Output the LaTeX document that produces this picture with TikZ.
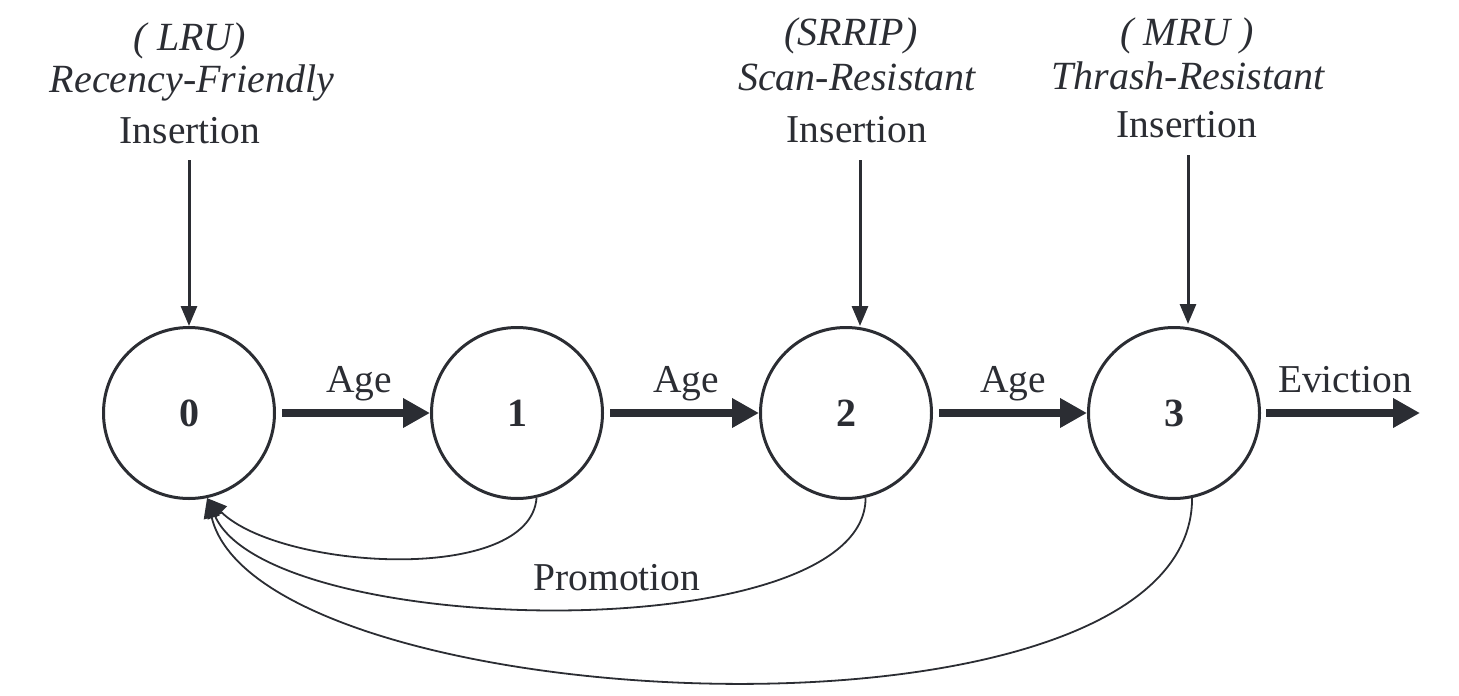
\documentclass[tikz,border=0pt]{standalone}
\usepackage{fontspec}
\setmainfont{Liberation Serif}
\usetikzlibrary{arrows.meta}
\definecolor{ink}{RGB}{43,45,51}
\begin{document}
\begin{tikzpicture}[x=1pt,y=-1pt,
  every node/.style={text=ink},
  txt/.style={font=\fontsize{39.5}{44}\selectfont, inner sep=0pt, anchor=base},
  itxt/.style={font=\fontsize{40}{44}\selectfont\itshape, inner sep=0pt, anchor=base},
  state/.style={circle, draw=ink, line width=3pt, minimum size=171pt, inner sep=0pt, font=\fontsize{40}{44}\selectfont\bfseries},
  agearrow/.style={draw=ink, line width=8pt, -{Triangle[length=27pt,width=28pt]}},
  insarrow/.style={draw=ink, line width=3pt, -{Triangle[length=20pt,width=16pt]}},
  promo/.style={draw=ink, line width=1.8pt, -{Triangle[length=20pt,width=16pt]}}]
\useasboundingbox (0,0) rectangle (1459,696);
% states
\node[state] (n0) at (189,413) {0};
\node[state] (n1) at (517,413) {1};
\node[state] (n2) at (846,413) {2};
\node[state] (n3) at (1174,413) {3};
% top labels
\node[itxt] (l1) at (190,50) {( LRU)};
\node[itxt] (l2) at (192,92) {Recency-Friendly};
\node[txt]  (l3) at (190,143) {Insertion};
\node[itxt] (s1) at (851,45) {(SRRIP)};
\node[itxt] (s2) at (857,90) {Scan-Resistant};
\node[txt]  (s3) at (857,142) {Insertion};
\node[itxt] (m1) at (1187,45) {( MRU )};
\node[itxt] (m2) at (1188,89) {Thrash-Resistant};
\node[txt]  (m3) at (1187,137) {Insertion};
% insertion arrows
\coordinate (i0) at (189,160);
\coordinate (i2) at (860,160);
\coordinate (t2) at (860,326);
\coordinate (i3) at (1188,155);
\coordinate (t3) at (1188,324);
\draw[insarrow] (i0) -- (n0.north);
\draw[insarrow] (i2) -- (t2);
\draw[insarrow] (i3) -- (t3);
% age arrows
\coordinate (a0) at (282,413);
\coordinate (a1) at (610,413);
\coordinate (a2) at (939,413);
\coordinate (e0) at (1266,413);
\coordinate (ev) at (1420,413);
\draw[agearrow] (a0) -- (n1.west);
\draw[agearrow] (a1) -- (n2.west);
\draw[agearrow] (a2) -- (n3.west);
\draw[agearrow] (e0) -- (ev);
\node[txt] (age1) at (359,392) {Age};
\node[txt] (age2) at (686,392) {Age};
\node[txt] (age3) at (1013,392) {Age};
\node[txt] (evl) at (1345,392) {Eviction};
% promotion curves
\draw[promo] (n1.-77) .. controls (530,585) and (280,570) .. (n0.-78);
\draw[promo] (n2.-77) .. controls (866,650) and (270,640) .. (n0.-78);
\draw[promo] (n3.-78) .. controls (1192,765) and (260,720) .. (n0.-78);
\node[txt] (pl) at (617,590) {Promotion};
\end{tikzpicture}
\end{document}
